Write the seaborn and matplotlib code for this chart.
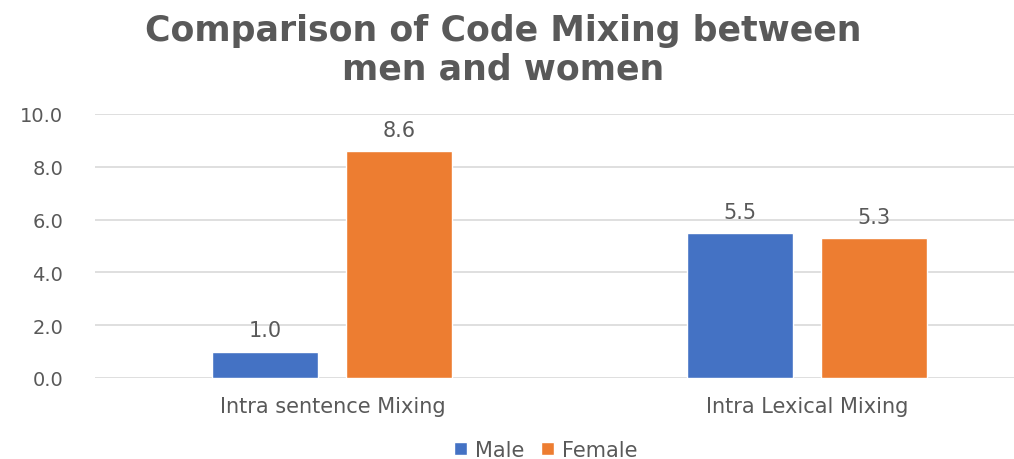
import matplotlib
matplotlib.use("Agg")
import matplotlib.pyplot as plt
import seaborn as sns
import pandas as pd

categories = ["Intra sentence Mixing", "Intra Lexical Mixing"]
series = ["Male", "Female"]
male_values = [1.0, 5.5]
female_values = [8.6, 5.3]
yticks = [0, 2, 4, 6, 8, 10]
title = "Comparison of Code Mixing between\nmen and women"

colors = {"Male": "#4472C4", "Female": "#ED7D31"}
text_color = "#595959"

df = pd.DataFrame({
    "category": categories * 2,
    "gender": ["Male"] * len(categories) + ["Female"] * len(categories),
    "value": male_values + female_values,
})

sns.set_theme(style="white")
plt.rcParams["font.family"] = ["DejaVu Sans"]

fig = plt.figure(figsize=(10.14, 4.6), dpi=100)
ax = fig.add_axes([95 / 1014, 81 / 460, 1 - 95 / 1014, (379 - 115) / 460])

sns.barplot(data=df, x="category", y="value", hue="gender", order=categories,
            hue_order=series, palette=colors, width=0.565, gap=0.21,
            saturation=1, ax=ax, legend=True)

ax.set_xlim(-0.5, 1.436)
ax.set_ylim(0, 10)
ax.set_yticks(yticks)
ax.set_yticklabels([f"{v:.1f}" for v in yticks])
ax.yaxis.grid(True, color="#d9d9d9", linewidth=1.2)
ax.set_axisbelow(True)
for s in ax.spines.values():
    s.set_visible(False)
ax.tick_params(axis="both", length=0, colors=text_color, labelsize=14)
ax.tick_params(axis="y", pad=23)
ax.tick_params(axis="x", pad=13, labelsize=15)
ax.set_xlabel("")
ax.set_ylabel("")

for cont in ax.containers:
    ax.bar_label(cont, fmt="%.1f", padding=8, color=text_color, fontsize=15)

handles, labels = ax.get_legend_handles_labels()
ax.legend_.remove()
fig.legend(handles, labels, loc="center", bbox_to_anchor=(546 / 1014, 1 - 451 / 460),
           ncol=2, frameon=False, fontsize=15, labelcolor=text_color,
           handlelength=0.6, handleheight=0.6, handletextpad=0.4, columnspacing=0.8)

fig.text(503 / 1014, 1 - 50 / 460, title, ha="center", va="center",
         fontsize=25, fontweight="bold", color=text_color, linespacing=1.15)

fig.savefig("out.png", dpi=100)
